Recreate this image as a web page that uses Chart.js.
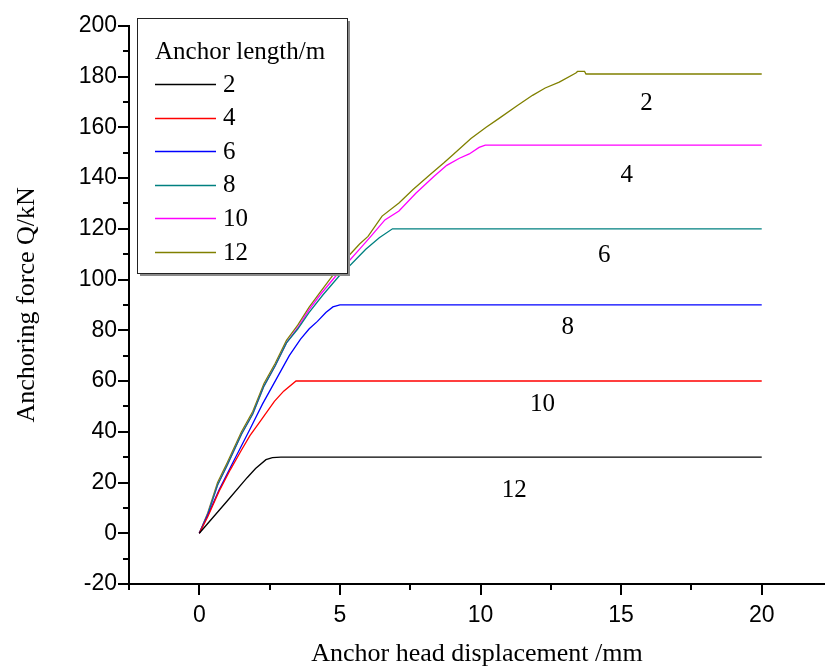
<!DOCTYPE html>
<html>
<head>
<meta charset="utf-8">
<script src="https://cdn.jsdelivr.net/npm/chart.js@4.4.0/dist/chart.umd.min.js"></script>
<style>
    html, body { margin: 0; padding: 0; background: #fff; }
</style>
</head>
<body>
<canvas id="myChart" width="825" height="670"></canvas>
<script>
// anchor lengths (m) and the curve of each one
var lengths = ["2", "4", "6", "8", "10", "12"];

var x2 = [0, 0.5, 1.0, 1.7, 2.0, 2.37, 2.6, 2.9, 20];
var y2 = [0, 6.4, 12.8, 21.9, 25.5, 29, 29.8, 30, 30];

var x4 = [0, 0.3, 0.7, 1.1, 1.48, 1.8, 2.19, 2.67, 3.0, 3.44, 20];
var y4 = [0, 6.5, 16.5, 25, 32.4, 38.5, 44.5, 52, 56, 60, 60];

var x6 = [0, 0.3, 0.7, 1.2, 1.8, 2.25, 2.6, 3.2, 3.6, 3.91, 4.2, 4.5, 4.75, 5.0, 20];
var y6 = [0, 7, 17, 28, 41, 51, 58, 70, 76.5, 80.6, 83.5, 87, 89.2, 90, 90];

var x8 = [0, 0.3, 0.65, 1.0, 1.5, 1.9, 2.3, 2.7, 3.1, 3.5, 3.9, 4.4, 4.98, 5.4, 5.92, 6.4, 6.87, 20];
var y8 = [0, 7.5, 19, 27, 39, 47, 58, 66, 75, 80.5, 87, 94, 101.5, 106, 111.9, 116.5, 120, 120];

var x10 = [0, 0.3, 0.65, 1.0, 1.5, 1.9, 2.3, 2.7, 3.1, 3.5, 3.9, 4.3, 4.86, 5.3, 5.7, 6.1, 6.6, 7.1, 7.7, 8.35, 8.8, 9.25, 9.6, 9.95, 10.17, 20];
var y10 = [0, 7.5, 19, 27, 39, 47, 58, 66, 75, 81, 88, 94, 101.5, 107, 112, 117, 123.5, 127, 134, 140.7, 145, 147.8, 149.5, 152.1, 153, 153];

var x12 = [0, 0.3, 0.65, 1.0, 1.5, 1.9, 2.3, 2.7, 3.1, 3.5, 3.9, 4.3, 4.74, 5.2, 5.7, 6.0, 6.5, 7.1, 7.6, 8.2, 8.7, 9.0, 9.66, 10.2, 10.66, 11.3, 11.85, 12.3, 12.8, 13.39, 13.45, 13.7, 13.75, 20];
var y12 = [0, 8, 20, 28, 40, 48, 59, 67, 76, 82, 89, 95, 101.5, 108, 114, 117, 125, 130.2, 135.5, 141.3, 146, 149, 155.6, 160, 163.5, 168.5, 172.6, 175.5, 177.8, 181.4, 182, 182, 181, 181];

var colors = ["#000000", "#ff0000", "#0000ff", "#008080", "#ff00ff", "#808000"];

// text written next to the plateaus
var noteText = ["2", "4", "6", "8", "10", "12"];
var noteX = [15.9, 15.2, 14.4, 13.1, 12.2, 11.2];
var noteY = [169.4, 141.2, 109.5, 81.3, 50.7, 16.7];

var xTicks = [0, 5, 10, 15, 20];
var yTicks = [-20, 0, 20, 40, 60, 80, 100, 120, 140, 160, 180, 200];

var serif = "'Times New Roman', 'Liberation Serif', serif";
var sans = "Arial, 'Liberation Sans', sans-serif";

function pts(xs, ys) {
    var out = [];
    for (var i = 0; i < xs.length; i++) {
        out.push({ x: xs[i], y: ys[i] });
    }
    return out;
}

function fixedTicks(list) {
    return function (scale) {
        scale.ticks = list.map(function (v) { return { value: v }; });
    };
}

var series = [pts(x2, y2), pts(x4, y4), pts(x6, y6), pts(x8, y8), pts(x10, y10), pts(x12, y12)];

var datasets = [];
for (var i = 0; i < series.length; i++) {
    datasets.push({
        label: lengths[i],
        data: series[i],
        borderColor: colors[i],
        backgroundColor: colors[i],
        borderWidth: 1.3,
        pointRadius: 0,
        tension: 0,
        fill: false
    });
}

// ticks, plateau labels and the boxed legend
var extras = {
    id: 'extras',
    afterDraw: function (chart) {
        var ctx = chart.ctx;
        var xs = chart.scales.x, ys = chart.scales.y;
        var area = chart.chartArea;
        ctx.save();

        ctx.strokeStyle = "#000";
        ctx.lineWidth = 2;
        ctx.beginPath();
        for (var v = -20; v <= 200; v += 10) {
            var py = Math.round(ys.getPixelForValue(v));
            var len = (v % 20 == 0) ? 11 : 6;
            ctx.moveTo(area.left, py);
            ctx.lineTo(area.left - len, py);
        }
        for (var u = -2.5; u <= 22.5; u += 2.5) {
            var px = Math.round(xs.getPixelForValue(u));
            if (px > area.right) break;
            var l2 = (u % 5 == 0) ? 11 : 6;
            ctx.moveTo(px, area.bottom);
            ctx.lineTo(px, area.bottom + l2);
        }
        ctx.stroke();

        ctx.fillStyle = "#000";
        ctx.font = "25px " + serif;
        ctx.textAlign = "center";
        ctx.textBaseline = "middle";
        for (var n = 0; n < noteText.length; n++) {
            ctx.fillText(noteText[n], xs.getPixelForValue(noteX[n]), ys.getPixelForValue(noteY[n]));
        }

        // legend
        var bx = 137, by = 18, bw = 210, bh = 255;
        ctx.fillStyle = "#8a8a8a";
        ctx.fillRect(bx + 3, by + 3, bw, bh);
        ctx.fillStyle = "#fff";
        ctx.fillRect(bx, by, bw, bh);
        ctx.strokeStyle = "#222";
        ctx.lineWidth = 1;
        ctx.strokeRect(bx + 0.5, by + 0.5, bw, bh);

        ctx.fillStyle = "#000";
        ctx.textAlign = "left";
        ctx.font = "25px " + serif;
        ctx.fillText("Anchor length/m", 155, 52);
        for (var k = 0; k < lengths.length; k++) {
            var ry = 84 + k * 33.6;
            ctx.strokeStyle = colors[k];
            ctx.lineWidth = 1.3;
            ctx.beginPath();
            ctx.moveTo(155, Math.round(ry) + 0.5);
            ctx.lineTo(216, Math.round(ry) + 0.5);
            ctx.stroke();
            ctx.fillText(lengths[k], 223, ry + 1);
        }
        ctx.restore();
    }
};

var config = {
    type: 'line',
    data: { datasets: datasets },
    options: {
        responsive: false,
        animation: false,
        layout: { padding: { top: 22, right: 0, left: 0, bottom: 0 } },
        plugins: {
            legend: { display: false },
            tooltip: { enabled: false }
        },
        scales: {
            x: {
                type: 'linear',
                min: -2.5,
                max: 22.25,
                afterBuildTicks: fixedTicks(xTicks),
                afterFit: function (s) { s.height = 86; },
                grid: { display: false, drawTicks: false },
                border: { display: true, color: "#000", width: 2 },
                ticks: {
                    autoSkip: false,
                    maxRotation: 0,
                    padding: 18,
                    color: "#000",
                    font: { family: sans, size: 23 }
                },
                title: {
                    display: true,
                    text: "Anchor head displacement /mm",
                    color: "#000",
                    font: { family: serif, size: 26 },
                    padding: { top: 0, bottom: 0 }
                }
            },
            y: {
                type: 'linear',
                min: -20,
                max: 200,
                afterBuildTicks: fixedTicks(yTicks),
                afterFit: function (s) { s.width = 129; },
                grid: { display: false, drawTicks: false },
                border: { display: true, color: "#000", width: 2 },
                ticks: {
                    autoSkip: false,
                    padding: 12,
                    color: "#000",
                    font: { family: sans, size: 23 }
                },
                title: {
                    display: true,
                    text: "Anchoring force Q/kN",
                    color: "#000",
                    font: { family: serif, size: 26 },
                    padding: { top: 12, bottom: 0 }
                }
            }
        }
    },
    plugins: [extras]
};

var myChart = new Chart(document.getElementById('myChart'), config);
</script>
</body>
</html>
